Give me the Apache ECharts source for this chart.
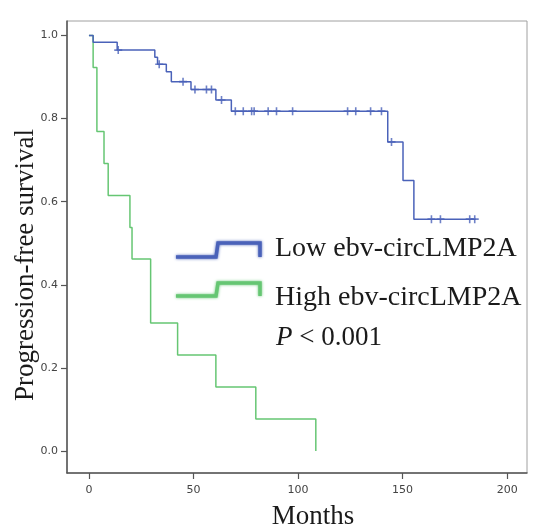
<!DOCTYPE html>
<html>
<head>
<meta charset="utf-8">
<script src="https://cdn.jsdelivr.net/npm/echarts@6/dist/echarts.min.js"></script>
<style>
  html, body { margin: 0; padding: 0; background: #fff; }
  #chart { width: 534px; height: 529px; }
</style>
</head>
<body>
<div id="chart"></div>
<script>
// Kaplan-Meier progression-free survival, two expression groups

// Low group: event times (months) and survival after each step
const lowTimes = [0, 2, 13.5, 31.5, 32.8, 37, 39.4, 48.8, 60.7, 68.1, 142.9, 150.2, 155.4, 185];
const lowSurv  = [1, 0.984, 0.965, 0.948, 0.931, 0.913, 0.889, 0.870, 0.845, 0.818, 0.744, 0.651, 0.558, 0.558];
// Low group: censored observations
const lowCensTimes = [14, 33.6, 45, 50.7, 56.2, 58.6, 63.4, 70, 73.8, 77.8, 79, 85.7, 89.7, 97.4, 123.7, 127.6, 134.7, 139.9, 144.7, 163.8, 168.1, 182.1, 184.5];
const lowCensSurv  = [0.965, 0.931, 0.889, 0.870, 0.870, 0.870, 0.845, 0.818, 0.818, 0.818, 0.818, 0.818, 0.818, 0.818, 0.818, 0.818, 0.818, 0.818, 0.744, 0.558, 0.558, 0.558, 0.558];

// High group: event times (months) and survival after each step
const highTimes = [0, 2, 3.8, 7.2, 9.2, 19.6, 20.6, 29.5, 42.4, 60.7, 79.8, 108.5];
const highSurv  = [1, 0.923, 0.769, 0.692, 0.615, 0.538, 0.462, 0.308, 0.231, 0.154, 0.077, 0];

// Axis tick values
const xTicks = [0, 50, 100, 150, 200];
const yTicks = [0, 0.2, 0.4, 0.6, 0.8, 1.0];

const groupNames = ['Low ebv-circLMP2A', 'High ebv-circLMP2A'];
const pText = '< 0.001';

const blue = '#4a62b9';
const green = '#66c673';
const serif = '"Liberation Serif", "Times New Roman", serif';

const zip = (a, b) => a.map((v, i) => [v, b[i]]);

const chart = echarts.init(document.getElementById('chart'), null, { renderer: 'canvas' });

const plusSymbol = 'path://M4,0 L6,0 L6,4 L10,4 L10,6 L6,6 L6,10 L4,10 L4,6 L0,6 L0,4 L4,4 Z';

chart.setOption({
  animation: false,
  grid: {
    left: 67, top: 21, width: 460, height: 452,
    show: true, borderColor: '#a0a0a0', borderWidth: 1, backgroundColor: '#fff'
  },
  xAxis: {
    type: 'value', min: -10.5, max: 209.5,
    axisLine: { show: true, onZero: false, lineStyle: { color: '#555', width: 1.5 } },
    axisTick: { show: true, customValues: xTicks, length: 6, lineStyle: { color: '#555', width: 1.2 } },
    axisLabel: { customValues: xTicks, margin: 12, color: '#444', fontSize: 11, fontFamily: '"DejaVu Sans", sans-serif' },
    splitLine: { show: false }
  },
  yAxis: {
    type: 'value', min: -0.053, max: 1.035,
    axisLine: { show: true, onZero: false, lineStyle: { color: '#555', width: 1.5 } },
    axisTick: { show: true, customValues: yTicks, length: 6, lineStyle: { color: '#555', width: 1.2 } },
    axisLabel: { customValues: yTicks, margin: 9, color: '#444', fontSize: 11, fontFamily: '"DejaVu Sans", sans-serif',
      formatter: v => v.toFixed(1) },
    splitLine: { show: false }
  },
  series: [
    {
      name: groupNames[0], type: 'line', step: 'end', data: zip(lowTimes, lowSurv),
      symbol: 'none', lineStyle: { color: blue, width: 1.5 }, z: 3
    },
    {
      name: groupNames[0] + ' censored', type: 'scatter', data: zip(lowCensTimes, lowCensSurv),
      symbol: plusSymbol, symbolSize: 8, itemStyle: { color: blue }, z: 4
    },
    {
      name: groupNames[1], type: 'line', step: 'end', data: zip(highTimes, highSurv),
      symbol: 'none', lineStyle: { color: green, width: 1.5 }, z: 2
    }
  ],
  graphic: [
    // legend keys: stepped line icons
    { type: 'polyline', shape: { points: [[176, 257], [216, 257], [218, 243], [260, 243], [260, 257]] },
      style: { stroke: blue, lineWidth: 3.5, fill: null, shadowBlur: 3, shadowColor: blue } },
    { type: 'polyline', shape: { points: [[176, 296], [216, 296], [218, 283], [260, 283], [260, 296]] },
      style: { stroke: green, lineWidth: 3.5, fill: null, shadowBlur: 3, shadowColor: green } },
    { type: 'text', x: 275, y: 249, style: { text: groupNames[0], font: '28px ' + serif, fill: '#1a1a1a', textVerticalAlign: 'middle' } },
    { type: 'text', x: 275, y: 298, style: { text: groupNames[1], font: '28px ' + serif, fill: '#1a1a1a', textVerticalAlign: 'middle' } },
    { type: 'text', x: 276, y: 338, style: {
        text: '{p|P} ' + pText,
        font: '27px ' + serif, fill: '#1a1a1a', textVerticalAlign: 'middle',
        rich: { p: { fontStyle: 'italic', fontFamily: serif, fontSize: 27 } }
      } },
    // axis titles
    { type: 'text', x: 26, y: 265, rotation: Math.PI / 2, style: {
        text: 'Progression-free survival', font: '27px ' + serif, fill: '#1a1a1a',
        textAlign: 'center', textVerticalAlign: 'middle' } },
    { type: 'text', x: 313, y: 517, style: {
        text: 'Months', font: '27px ' + serif, fill: '#1a1a1a',
        textAlign: 'center', textVerticalAlign: 'middle' } }
  ]
});
</script>
</body>
</html>
